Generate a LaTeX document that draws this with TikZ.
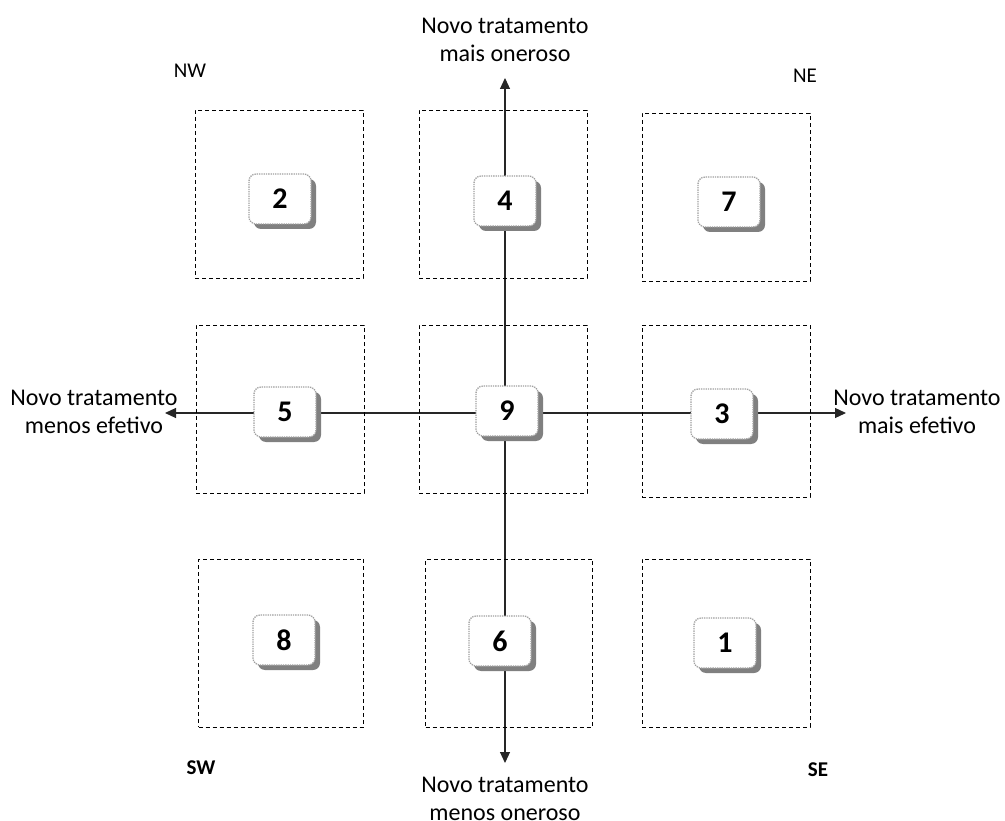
\documentclass[tikz,border=0pt]{standalone}
\usepackage{fontspec}
\setmainfont{Carlito}
\usetikzlibrary{arrows.meta,shadows,backgrounds}
\begin{document}
\begin{tikzpicture}[x=1pt,y=-1pt,
 zone/.style={draw, dash pattern=on 4pt off 3pt, line width=0.9pt, minimum width=168pt, minimum height=168pt, inner sep=0pt},
 num/.style={draw=gray!75, densely dotted, line width=1.3pt, rounded corners=7pt, fill=white, minimum width=62pt, minimum height=50pt, inner sep=0pt, font=\fontsize{30}{34}\selectfont\bfseries, drop shadow={shadow xshift=5pt, shadow yshift=-5pt, fill=black!50, draw=none, opacity=1}},
 lbl/.style={align=center, font=\fontsize{24}{28}\selectfont},
 corner/.style={font=\fontsize{21}{25}\selectfont},
 axis/.style={-{Triangle[length=11pt,width=10pt]}, line width=1.2pt, draw=black!85}]
\useasboundingbox (0,0) rectangle (1005,821);
% zones
\node[zone] (z11) at (279,194) {};
\node[zone] (z12) at (503,194) {};
\node[zone] (z13) at (726,197) {};
\node[zone] (z21) at (280,409) {};
\node[zone] (z22) at (503,409) {};
\node[zone, minimum height=172pt] (z23) at (726,411) {};
\node[zone, minimum width=165pt] (z31) at (281,643) {};
\node[zone, minimum width=167pt] (z32) at (509,643) {};
\node[zone] (z33) at (726,643) {};
% number boxes
\node[num] (n2) at (280,199) {2};
\node[num] (n4) at (505,201) {4};
\node[num] (n7) at (729,202) {7};
\node[num] (n5) at (285,412) {5};
\node[num] (n9) at (507,411) {9};
\node[num] (n3) at (722,414) {3};
\node[num] (n8) at (284,640) {8};
\node[num] (n6) at (500,641) {6};
\node[num] (n1) at (725,643) {1};
% axis end points
\coordinate (tN) at (505,78);
\coordinate (tS) at (505,763);
\coordinate (tW) at (165,413);
\coordinate (tE) at (846,413);
\begin{scope}[on background layer]
\draw[axis] (n9.center) ++(-2,0) coordinate (c9) -- (c9 |- tN);
\draw[axis] (c9) -- (c9 |- tS);
\draw[axis] (n9.center) ++(0,2) coordinate (h9) -- (h9 -| tW);
\draw[axis] (h9) -- (h9 -| tE);
\end{scope}
% labels
\node[lbl] (lN) at (505,40) {Novo tratamento\\mais oneroso};
\node[lbl] (lS) at (505,799) {Novo tratamento\\menos oneroso};
\node[lbl] (lW) at (94,412) {Novo tratamento\\menos efetivo};
\node[lbl] (lE) at (917,412) {Novo tratamento\\mais efetivo};
\node[corner] (nw) at (190,71) {NW};
\node[corner] (ne) at (805,76) {NE};
\node[corner, font=\fontsize{21}{25}\selectfont\bfseries] (sw) at (201,768) {SW};
\node[corner, font=\fontsize{21}{25}\selectfont\bfseries] (se) at (818,770) {SE};
\end{tikzpicture}
\end{document}
